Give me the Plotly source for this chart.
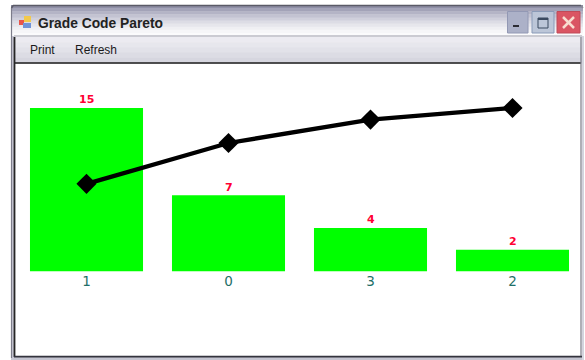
import plotly.graph_objects as go

W, H = 585, 360

# Pareto data
categories = ["1", "0", "3", "2"]
counts = [15, 7, 4, 2]
cumulative_pct = [53.6, 78.6, 92.9, 100.0]

GREEN = "#00ff00"
RED = "#ff0033"
TEAL = "#1f6f68"

# Plot area in window pixels
PLOT_L, PLOT_R, PLOT_T, PLOT_B = 15.5, 583.5, 70, 271.5
PX_PER_COUNT = 10.9
y_max = (PLOT_B - PLOT_T) / PX_PER_COUNT


def px(x):
    return x / W


def py(y):
    return 1 - y / H


def rect(x0, y0, x1, y1, fill, line=None, lw=1):
    return dict(
        type="rect", xref="paper", yref="paper", layer="below",
        x0=px(x0), x1=px(x1), y0=py(y0), y1=py(y1),
        fillcolor=fill,
        line=dict(color=line or "rgba(0,0,0,0)", width=lw if line else 0),
    )


def seg(x0, y0, x1, y1, color, lw=1):
    return dict(
        type="line", xref="paper", yref="paper", layer="below",
        x0=px(x0), x1=px(x1), y0=py(y0), y1=py(y1),
        line=dict(color=color, width=lw),
    )


shapes = []

# Title bar gradient
title_stops = ["#8f8fa6", "#a3a3b8", "#b4b4c6", "#c3c3d2", "#d0d0dc",
               "#dcdce5", "#e6e6ec", "#efeff3", "#f6f6f8", "#fbfbfc"]
band = 3.1
for i, c in enumerate(title_stops):
    shapes.append(rect(11, 5 + i * band, 583, 5 + (i + 1) * band + 0.5, c))

# Menu strip gradient
menu_stops = ["#ecebf1", "#e7e7ed", "#e2e2e9", "#dcdce4", "#d6d6df"]
for i, c in enumerate(menu_stops):
    shapes.append(rect(14, 37 + i * 5.2, 582, 37 + (i + 1) * 5.2 + 0.5, c))

# Outer band of the frame, below and beside the client area
shapes += [
    rect(11, 357, 583, 360, "#c4c4d0"),
    rect(11, 36, 14, 360, "#c8c8d4"),
    rect(582, 36, 584, 360, "#d4d4de"),
]

# Window frame
shapes += [
    seg(13, 5.5, 581, 5.5, "#5a5a66", 1.5),
    seg(11.5, 8, 13, 5.5, "#5a5a66", 1.5),
    seg(581, 5.5, 583, 8, "#8a8a96", 1.5),
    seg(14, 36, 582, 36, "#9a9aa8", 1),
    seg(15, 63, 581, 63, "#1c1c1c", 1.5),
    seg(11.5, 8, 11.5, 358, "#7c7c8a", 1.2),
    seg(14.5, 37, 14.5, 357, "#262626", 1.8),
    seg(581, 37, 581, 357, "#7a7a86", 1.2),
    seg(14, 356.7, 582, 356.7, "#33333d", 1.8),
]

# Window icon
shapes += [
    rect(19, 20, 24, 25, "#e8554a"),
    rect(24, 16, 31, 22, "#f2c94c"),
    rect(23, 23, 31, 28, "#6f93d8"),
]

# Caption buttons
shapes += [
    rect(507.5, 11.5, 528, 33, "#acb1c8", "#9298b4"),
    rect(513, 25, 519, 27, "#2c2c34"),
    rect(532, 11.5, 554, 33, "#bcc6d8", "#8a9bb8"),
    rect(538, 18, 548, 28, "rgba(0,0,0,0)", "#3a4a60", 1),
    rect(538, 18, 548, 20, "#3a4a60"),
    rect(557, 11.5, 580, 33, "#da5563", "#c04a58"),
    seg(563, 17, 574, 28, "#f8ddd0", 2.5),
    seg(574, 17, 563, 28, "#f8ddd0", 2.5),
]


def label(x, y, text, size, color="#1a1a1a", bold=False):
    return dict(
        xref="paper", yref="paper", x=px(x), y=py(y), xanchor="left", yanchor="middle",
        text=f"<b>{text}</b>" if bold else text, showarrow=False,
        font=dict(family="Liberation Sans, Arial, sans-serif", size=size, color=color),
    )


annotations = [
    label(36, 23, "Grade Code Pareto", 13.8, "#222222", True),
    label(27.5, 50, "Print", 12),
    label(72.5, 50, "Refresh", 12),
]

# Count labels sit just above each bar; x is the category's position on the axis
for pos, n in enumerate(counts):
    annotations.append(dict(
        x=pos, y=n, xref="x", yref="y", text=f"<b>{n}</b>", showarrow=False,
        yanchor="middle", yshift=8,
        font=dict(family="DejaVu Sans, sans-serif", size=11, color=RED),
    ))

fig = go.Figure()

fig.add_bar(
    x=categories, y=counts,
    marker=dict(color=GREEN, line=dict(width=0)),
    width=0.796, yaxis="y",
)
fig.add_scatter(
    x=categories, y=cumulative_pct, yaxis="y2", mode="lines+markers",
    line=dict(color="#000000", width=4.3),
    marker=dict(symbol="diamond", size=15.5, color="#000000"),
    cliponaxis=False,
)

fig.update_layout(
    width=W, height=H, autosize=False,
    margin=dict(l=0, r=0, t=0, b=0),
    paper_bgcolor="#ffffff", plot_bgcolor="rgba(0,0,0,0)",
    showlegend=False,
    shapes=shapes, annotations=annotations,
    xaxis=dict(
        domain=[px(PLOT_L), px(PLOT_R)], type="category",
        range=[-0.5, 3.5], showgrid=False, zeroline=False, showline=False,
        ticks="", ticklabelstandoff=0,
        tickfont=dict(family="DejaVu Sans, sans-serif", size=13.5, color=TEAL),
    ),
    yaxis=dict(
        domain=[py(PLOT_B), py(PLOT_T)], range=[0, y_max],
        visible=False, showgrid=False, zeroline=False,
    ),
    yaxis2=dict(
        domain=[py(PLOT_B), py(PLOT_T)], range=[0, y_max * 100 / 15],
        overlaying="y", visible=False, showgrid=False, zeroline=False,
    ),
)

fig.write_html("out.html", config=dict(displayModeBar=False))
